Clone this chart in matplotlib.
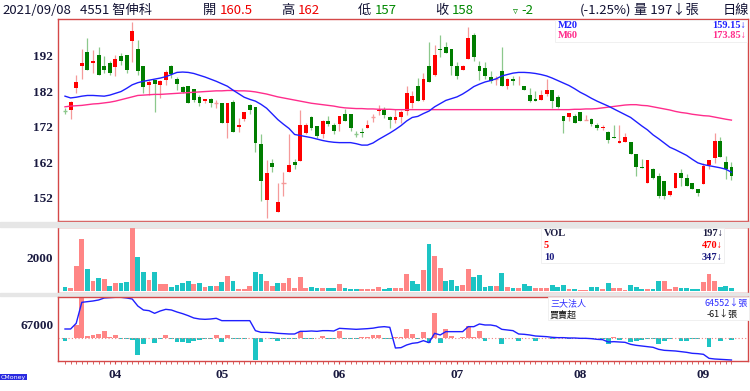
import matplotlib
matplotlib.use('Agg')
import matplotlib.pyplot as plt
from matplotlib.patches import Rectangle
import numpy as np

# ---------------- data ----------------
month_labels = ['04', '05', '06', '07', '08', '09']
month_index = [9, 28, 49, 70, 92, 114]

opens = [176.6, 176.6, 183.0, 189.0, 193.0, 190.0, 192.1, 189.0, 190.0, 188.7,
         192.0, 192.1, 196.1, 194.0, 189.0, 183.7, 185.1, 183.7, 185.2, 189.0,
         185.4, 183.1, 183.6, 182.6, 180.4, 179.3, 179.8, 178.7, 178.7, 173.1,
         179.0, 172.0, 174.2, 178.0, 177.6, 167.2, 151.3, 161.7, 147.8, 156.2,
         159.2, 162.1, 162.3, 170.3, 174.6, 172.1, 169.8, 173.5, 172.5, 172.7,
         175.5, 175.5, 170.0, 170.5, 171.7, 174.7, 176.3, 176.6, 174.6, 173.9,
         174.6, 176.3, 178.7, 183.6, 179.6, 189.0, 186.6, 193.9, 194.6, 194.0,
         189.0, 188.1, 191.1, 197.9, 189.0, 188.5, 186.0, 185.4, 187.6, 183.4,
         185.4, 184.8, 183.6, 181.0, 179.9, 179.6, 181.3, 182.2, 180.4, 174.9,
         174.8, 174.9, 176.1, 174.0, 174.2, 172.5, 171.6, 170.5, 169.1, 167.3,
         167.6, 167.6, 164.2, 160.6, 156.2, 160.0, 158.1, 156.7, 152.8, 154.8,
         159.0, 157.6, 156.2, 154.5, 155.8, 161.2, 163.2, 167.9, 162.0, 160.5]
highs = [177.3, 179.2, 186.5, 194.0, 197.0, 193.5, 194.4, 192.0, 190.4, 192.3,
         192.7, 192.1, 201.6, 196.5, 189.0, 185.2, 185.2, 185.2, 188.1, 189.3,
         186.0, 183.4, 183.6, 182.6, 180.8, 179.7, 180.0, 179.6, 178.7, 178.7,
         179.6, 174.5, 176.1, 178.5, 177.6, 170.0, 162.6, 163.0, 156.2, 159.2,
         170.0, 163.0, 176.6, 173.1, 175.1, 172.1, 174.0, 174.9, 173.1, 175.1,
         177.0, 175.5, 170.7, 171.7, 174.0, 175.7, 178.0, 177.6, 175.1, 177.0,
         176.8, 183.6, 182.0, 185.7, 187.1, 196.0, 195.1, 197.9, 196.0, 194.0,
         190.1, 189.5, 200.0, 198.4, 190.4, 190.1, 187.6, 186.2, 194.6, 185.7,
         186.4, 186.4, 183.6, 182.9, 182.0, 182.4, 185.4, 182.2, 180.8, 174.9,
         175.9, 175.7, 176.1, 175.4, 174.5, 172.9, 172.6, 170.7, 172.6, 172.6,
         170.3, 167.6, 164.2, 162.8, 162.6, 160.4, 159.0, 156.7, 153.9, 159.0,
         160.0, 158.6, 156.2, 154.5, 161.8, 162.6, 170.3, 169.1, 163.7, 162.0]
lows = [175.7, 174.2, 181.5, 185.5, 188.0, 187.1, 186.5, 187.1, 186.6, 186.2,
        189.3, 187.1, 190.1, 186.6, 181.5, 181.0, 176.2, 180.1, 183.8, 185.7,
        182.4, 181.5, 178.7, 178.9, 177.9, 178.7, 177.6, 177.3, 173.1, 168.9,
        170.5, 170.5, 173.5, 175.7, 164.8, 151.1, 146.2, 159.2, 147.8, 152.5,
        159.2, 160.2, 162.3, 169.8, 171.2, 168.9, 168.9, 172.3, 169.8, 170.7,
        173.5, 170.9, 169.1, 169.1, 171.7, 173.3, 175.4, 174.5, 171.7, 173.1,
        173.1, 175.4, 177.3, 179.1, 179.2, 184.6, 186.2, 191.6, 192.7, 186.6,
        185.4, 188.1, 191.1, 190.4, 185.2, 185.4, 184.3, 183.8, 183.4, 182.6,
        183.8, 183.8, 182.2, 178.9, 179.2, 179.6, 180.6, 177.3, 177.3, 170.3,
        173.5, 173.1, 173.5, 173.8, 172.3, 171.2, 171.0, 167.3, 168.7, 167.3,
        167.6, 164.2, 158.1, 160.3, 156.2, 157.3, 152.0, 151.5, 152.5, 154.8,
        155.3, 155.3, 154.3, 152.5, 155.8, 160.0, 161.8, 163.5, 157.3, 157.0]
closes = [176.5, 179.0, 184.6, 190.0, 188.1, 190.5, 186.6, 188.1, 187.1, 191.0,
          190.6, 188.1, 199.0, 187.6, 183.1, 184.7, 184.1, 185.0, 187.5, 186.8,
          184.0, 181.8, 178.7, 179.6, 178.7, 179.7, 178.7, 178.7, 173.1, 178.7,
          170.5, 172.5, 176.1, 176.6, 167.3, 156.7, 159.0, 160.7, 150.8, 156.2,
          161.1, 161.2, 172.5, 172.5, 171.7, 169.3, 173.5, 172.7, 170.7, 175.0,
          173.5, 171.7, 169.95, 170.2, 172.5, 174.7, 176.6, 175.2, 173.8, 174.6,
          176.1, 181.5, 180.6, 179.1, 185.4, 184.6, 192.1, 193.5, 192.7, 189.2,
          186.2, 189.0, 197.0, 191.6, 187.6, 186.2, 184.8, 185.4, 183.4, 185.4,
          184.8, 185.0, 182.2, 179.2, 179.2, 181.0, 182.2, 179.2, 177.6, 173.7,
          175.9, 173.1, 173.7, 174.0, 172.8, 171.6, 171.9, 168.2, 168.7, 168.0,
          169.1, 164.2, 160.6, 160.3, 162.6, 157.6, 152.5, 152.5, 153.9, 159.0,
          157.6, 155.3, 154.3, 153.2, 160.9, 162.6, 167.9, 163.5, 160.1, 158.0]

ma20 = [180.6, 180.1, 180.3, 180.6, 180.8, 180.8, 180.7, 180.6, 180.9, 181.4,
        181.9, 182.8, 183.8, 184.4, 184.8, 185.1, 185.4, 185.7, 186.1, 186.7,
        187.3, 187.4, 187.3, 187.0, 186.5, 186.0, 185.4, 184.8, 184.1, 183.4,
        182.3, 181.3, 180.3, 179.7, 179.2, 178.3, 177.2, 175.6, 174.0, 172.7,
        171.5, 169.8, 169.5, 169.2, 168.9, 168.5, 168.1, 167.8, 167.6, 167.5,
        167.5, 167.5, 167.2, 166.8, 166.8, 167.4, 168.4, 169.3, 170.2, 171.2,
        172.3, 173.6, 174.6, 174.9, 175.7, 176.4, 177.6, 178.5, 179.4, 179.9,
        180.4, 181.2, 182.2, 183.3, 184.0, 184.6, 185.0, 185.5, 186.3, 186.7,
        187.1, 187.3, 187.3, 187.2, 187.0, 186.7, 186.3, 185.7, 185.0, 184.3,
        183.6, 182.7, 181.7, 180.9, 180.0, 179.2, 178.5, 177.8, 177.0, 176.2,
        175.4, 174.6, 173.4, 172.2, 171.1, 169.7, 168.6, 167.4, 166.2, 165.5,
        164.7, 163.9, 162.8, 161.8, 161.3, 161.0, 160.7, 160.4, 160.0, 159.15]
ma60 = [177.6, 177.8, 177.9, 178.0, 178.2, 178.4, 178.5, 178.7, 178.9, 179.2,
        179.6, 180.0, 180.4, 180.8, 180.9, 181.0, 181.1, 181.1, 181.2, 181.3,
        181.4, 181.5, 181.6, 181.7, 181.8, 181.9, 182.0, 182.1, 182.1, 182.2,
        182.2, 182.1, 182.1, 182.0, 181.8, 181.5, 181.2, 180.8, 180.4, 180.1,
        179.8, 179.5, 179.2, 178.9, 178.6, 178.4, 178.2, 178.0, 177.8, 177.5,
        177.3, 177.2, 177.1, 177.1, 177.0, 177.0, 176.9, 176.9, 176.9, 176.8,
        176.8, 176.8, 176.8, 176.8, 176.8, 176.8, 176.8, 176.8, 176.8, 176.8,
        176.8, 176.8, 176.8, 176.8, 176.8, 176.8, 176.8, 176.8, 176.8, 176.8,
        176.8, 176.8, 176.8, 176.8, 176.8, 176.8, 176.8, 176.8, 176.8, 176.8,
        176.8, 176.9, 176.9, 177.0, 177.0, 177.1, 177.3, 177.5, 177.7, 177.9,
        178.1, 178.2, 178.2, 178.0, 177.9, 177.6, 177.3, 177.0, 176.7, 176.3,
        176.0, 175.8, 175.5, 175.3, 175.1, 175.0, 174.7, 174.4, 174.1, 173.85]

volume = [274, 196, 1470, 3058, 1313, 608, 784, 725, 333, 470,
          470, 549, 3724, 2000, 1117, 647, 1117, 412, 431, 235,
          372, 470, 588, 431, 490, 274, 314, 314, 529, 921,
          608, 157, 157, 333, 1117, 1019, 588, 314, 470, 510,
          784, 196, 843, 196, 255, 216, 196, 216, 216, 431,
          176, 118, 118, 118, 118, 165, 255, 157, 196, 176,
          196, 1000, 608, 451, 1235, 2783, 2097, 1352, 588, 647,
          294, 372, 1294, 843, 960, 255, 333, 314, 1078, 274,
          196, 196, 431, 314, 196, 196, 196, 372, 255, 392,
          118, 137, 78, 78, 255, 274, 118, 470, 196, 196,
          78, 353, 255, 157, 157, 118, 608, 588, 137, 255,
          176, 176, 137, 137, 549, 1000, 608, 235, 333, 197]
volume_dir = ("TPPPTPTPTP" "TTPTTPTPPT" "TTTPTPTPTP" "TPPPTTPPTP"
              "PPPPTTPTTP" "TTTPPPPTTP" "PPTTPTPPTT" "TPPTTTTPTP"
              "TPTTPPPTTT" "PTPPTTPTPP" "PTTTPTTPPP" "TTTTPPPTTT")

inst_net = [-107, 0, 533, 1667, 107, 147, 187, 280, 67, 147,
            -40, -40, -67, -667, -240, 0, -200, -27, 133, -27,
            -160, -160, -200, -120, -53, -40, -40, 120, -160, 147,
            -40, -40, -40, 0, -867, -160, 0, -40, -107, -40,
            -40, -27, 267, -27, -27, 0, 80, -27, -27, 280,
            -27, -27, -40, 40, 40, 120, 120, -40, -40, 67,
            67, 360, 160, -40, 253, -200, 1000, -173, 373, 93,
            0, 67, 507, 67, 293, -93, 0, 0, -240, 0,
            0, -93, 0, 0, -93, 0, 0, -40, 0, 0,
            -40, 0, -40, 0, -40, 0, -40, -240, 40, -67,
            0, -160, -107, -67, -40, -40, -240, -93, -40, 0,
            -93, -93, -40, -40, 0, -333, 0, -93, 0, -61]
inst_hold = [66702, 66702, 67095, 68550, 68597, 68643, 68712, 68851, 68874, 68897,
             68897, 68851, 68781, 68296, 68019, 67973, 67788, 67950, 68065, 68019,
             67880, 67765, 67626, 67465, 67395, 67372, 67395, 67442, 67280, 67280,
             67280, 67280, 67280, 67280, 66587, 66471, 66471, 66448, 66402, 66379,
             66356, 66356, 66540, 66540, 66564, 66540, 66587, 66587, 66564, 66748,
             66725, 66702, 66679, 66702, 66725, 66760, 66830, 66864, 66818, 65385,
             65409, 65594, 65709, 65755, 65894, 65755, 66402, 66287, 66518, 66518,
             66518, 66518, 66864, 66864, 67049, 66980, 66980, 66910, 66679, 66633,
             66587, 66356, 66333, 66287, 66217, 66194, 66171, 66125, 66102, 66102,
             66079, 66079, 66055, 66055, 66032, 65986, 65963, 65801, 65824, 65801,
             65778, 65640, 65570, 65524, 65478, 65432, 65293, 65224, 65201, 65178,
             65132, 65085, 65016, 64993, 64947, 64669, 64623, 64600, 64577, 64552]

# ---------------- style ----------------
W, H = 750, 391
RED = '#ff0000'
GREEN = '#007d00'
RED_WICK = '#f59a9a'
GREEN_WICK = '#8cc88c'
VOL_UP = '#ff8585'
VOL_DN = '#1cc4c4'
FRAME = '#d44848'
NAVY = '#1a1a40'
SERIF = ['Liberation Serif', 'DejaVu Serif']
CJK = ['Noto Sans CJK TC', 'DejaVu Sans']


def fx(x):
    return x / W


def fy(y):
    return 1 - y / H


fig = plt.figure(figsize=(W / 100, H / 100), dpi=100)
fig.patch.set_facecolor('white')

L, R = 58, 748
ax1 = fig.add_axes([fx(L), fy(221), fx(R) - fx(L), fy(18.5) - fy(221)])
ax2 = fig.add_axes([fx(L), fy(292.5), fx(R) - fx(L), fy(227) - fy(292.5)])
ax3 = fig.add_axes([fx(L), fy(361), fx(R) - fx(L), fy(296.5) - fy(361)])
ax3b = ax3.twinx()

n = len(closes)
x = np.arange(n)
xlim = (-1.25, 121.96)

# ---------------- candles ----------------
o = np.array(opens); c = np.array(closes); hi = np.array(highs); lo = np.array(lows)
up = c >= o
wick_cols = [RED_WICK if u else GREEN_WICK for u in up]
body_cols = [RED if u else GREEN for u in up]
ax1.vlines(x, lo, hi, colors=wick_cols, lw=0.9, zorder=2)
doji = np.abs(c - o) < 0.15
nd = ~doji
ax1.bar(x[nd], np.abs(c - o)[nd], bottom=np.minimum(o, c)[nd], width=0.68,
        color=np.array(body_cols)[nd], linewidth=0, zorder=3)
ax1.hlines(c[doji], x[doji] - 0.38, x[doji] + 0.38,
           colors=np.array(wick_cols)[doji], lw=1.0, zorder=3)
ax1.plot(x, ma60, color='#ff2d8c', lw=1.0, zorder=4)
ax1.plot(x, ma20, color='#1f1fff', lw=1.0, zorder=4)
ax1.set_xlim(*xlim)
ax1.set_ylim(145.4, 202.5)
ax1.set_yticks([152, 162, 172, 182, 192])

# ---------------- volume ----------------
vcols = [VOL_UP if d == 'P' else VOL_DN for d in volume_dir]
ax2.bar(x, volume, width=0.86, color=vcols, linewidth=0)
ax2.set_xlim(*xlim)
ax2.set_ylim(-70, 3781)
ax2.set_yticks([2000])

# ---------------- institutional ----------------
icols = [VOL_UP if v > 0 else VOL_DN for v in inst_net]
ax3b.bar(x, inst_net, width=0.86, color=icols, linewidth=0)
ax3b.axhline(0, color='#f08080', lw=0.8, ls=(0, (1, 2)))
ax3b.set_ylim(-908, 1672)
ax3b.set_yticks([])
for s in ax3b.spines.values():
    s.set_visible(False)
ax3.plot(x, inst_hold, color='#1f1fff', lw=1.0)
ax3.set_zorder(ax3b.get_zorder() + 1)
ax3.patch.set_visible(False)
ax3.set_xlim(*xlim)
ax3.set_ylim(64484, 68954)
ax3.set_yticks([67000])

# ---------------- axes styling ----------------
for ax in (ax1, ax2, ax3):
    for s in ax.spines.values():
        s.set_color(FRAME)
        s.set_linewidth(1.0)
    ax.tick_params(axis='y', length=0, pad=3.5, labelsize=9.5, labelcolor=NAVY)
    for t in ax.get_yticklabels():
        t.set_fontfamily(SERIF)
        t.set_fontweight('bold')

ax1.set_xticks(month_index)
ax1.set_xticklabels([])
ax1.tick_params(axis='x', direction='out', length=3, color=FRAME)
ax2.set_xticks([])
ax3.set_xticks(month_index)
ax3.set_xticks(x, minor=True)
ax3.set_xticklabels(month_labels)
ax3.tick_params(axis='x', which='both', direction='out', length=2, color=FRAME,
                labelsize=9.5, labelcolor=NAVY, pad=3.5)
for t in ax3.get_xticklabels():
    t.set_fontfamily(SERIF)
    t.set_fontweight('bold')

# separators
for (y0, y1) in [(222.5, 226.5), (293.0, 296.0)]:
    fig.patches.append(Rectangle((0, fy(y1)), 1, fy(y0) - fy(y1),
                                 transform=fig.transFigure, color='#e6e6e6', zorder=0.5))

# ---------------- header ----------------
hy = fy(10.5)
hdr = dict(fontsize=9.5, va='center', family=CJK)
DARK = '#111133'
fig.text(fx(2), hy, '2021/09/08', color=DARK, **hdr)
fig.text(fx(80), hy, '4551 智伸科', color=DARK, **hdr)
fig.text(fx(203), hy, '開', color=DARK, **hdr)
fig.text(fx(220), hy, '160.5', color='#ee0000', **hdr)
fig.text(fx(281), hy, '高', color=DARK, **hdr)
fig.text(fx(298), hy, '162', color='#ee0000', **hdr)
fig.text(fx(358), hy, '低', color=DARK, **hdr)
fig.text(fx(375), hy, '157', color='#008800', **hdr)
fig.text(fx(435), hy, '收', color=DARK, **hdr)
fig.text(fx(452), hy, '158', color='#008800', **hdr)
fig.text(fx(513), hy, '▿', color='#008800', fontsize=7, va='center', family=['DejaVu Sans'])
fig.text(fx(521), hy, '-2', color='#008800', **hdr)
fig.text(fx(580), hy, '(-1.25%)', color=DARK, **hdr)
fig.text(fx(634), hy, '量 197↓張', color=DARK, **hdr)
fig.text(fx(749), hy, '日線', color=DARK, ha='right', **hdr)


# ---------------- legend boxes ----------------
def box(x0, y0, x1, y1):
    fig.patches.append(Rectangle((fx(x0), fy(y1)), fx(x1) - fx(x0), fy(y0) - fy(y1),
                                 transform=fig.transFigure, facecolor='white',
                                 edgecolor='#eeeeee', lw=0.6, zorder=5))


lg = dict(fontsize=7.5, va='center', family=SERIF, weight='bold', zorder=6)
box(555, 19.5, 747, 41.5)
fig.text(fx(558), fy(25), 'M20', color='#2020ff', **lg)
fig.text(fx(746), fy(25), '159.15↓', color='#2020ff', ha='right', **lg)
fig.text(fx(558), fy(35.5), 'M60', color='#ff2d8c', **lg)
fig.text(fx(746), fy(35.5), '173.85↓', color='#ff2d8c', ha='right', **lg)

box(541, 228, 724, 263)
fig.text(fx(544), fy(234), 'VOL', color=NAVY, **lg)
fig.text(fx(723), fy(234), '197↓', color=NAVY, ha='right', **lg)
fig.text(fx(544), fy(245.7), '5', color='#ff0000', **lg)
fig.text(fx(723), fy(245.7), '470↓', color='#ff0000', ha='right', **lg)
fig.text(fx(544), fy(257.3), '10', color='#1a1a80', **lg)
fig.text(fx(723), fy(257.3), '347↓', color='#1a1a80', ha='right', **lg)

box(548, 297, 749, 320)
cj = dict(fontsize=6.5, va='center', family=CJK, zorder=6)
fig.text(fx(550), fy(303.3), '三大法人', color='#3030ff', **cj)
fig.text(fx(748), fy(303.3), '64552↓張', color='#3030ff', ha='right', **cj)
fig.text(fx(550), fy(315), '買賣超', color='#111111', **cj)
fig.text(fx(738), fy(315), '-61↓張', color='#111111', ha='right', **cj)

# logo
fig.text(fx(0.5), fy(377), 'CMoney', color='white', fontsize=4.5, va='center',
         family=['DejaVu Sans'],
         bbox=dict(boxstyle='square,pad=0.15', fc='#2a2ae0', ec='none'))

fig.savefig('out.png', dpi=100, facecolor='white')
